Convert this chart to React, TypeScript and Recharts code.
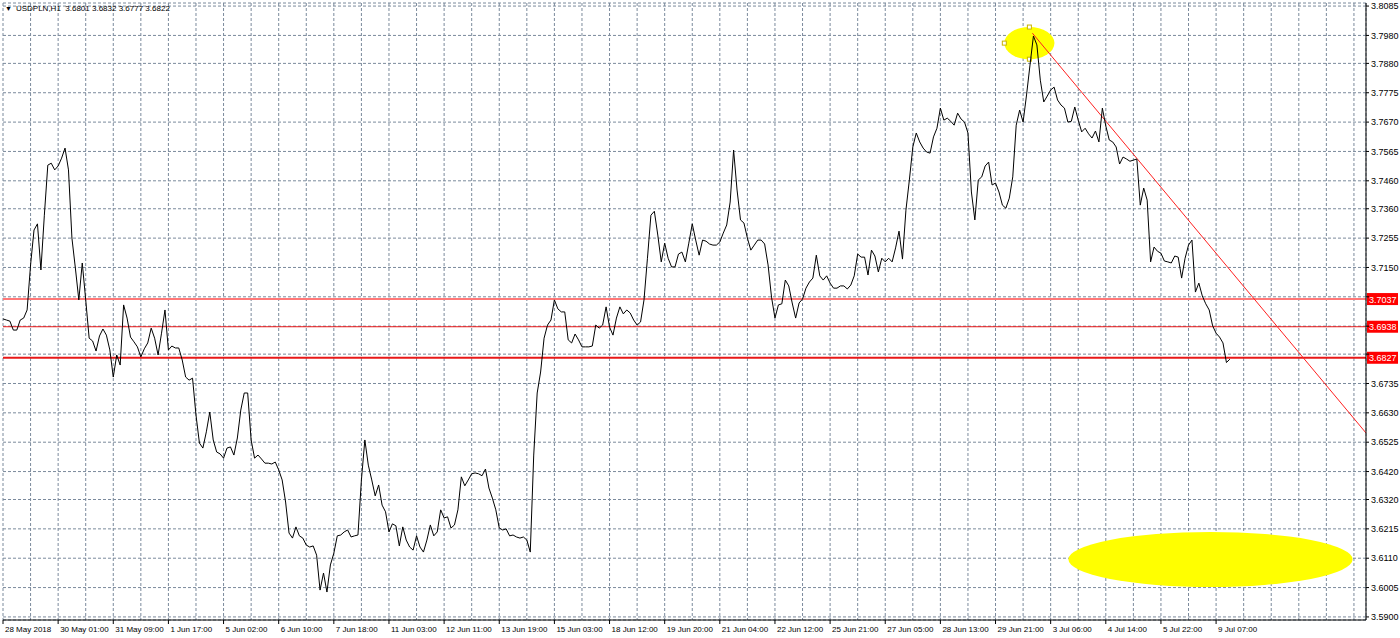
import {
  CartesianGrid,
  Line,
  LineChart,
  ReferenceArea,
  ReferenceLine,
  XAxis,
  YAxis,
} from 'recharts';

const symbol = 'USDPLN,H1';
const lastBar = [3.6801, 3.6832, 3.6777, 3.6822];

// close price read every 2 hourly bars
const barStep = 2;
const closes = [
  3.6966, 3.6962, 3.6958, 3.6926, 3.6926, 3.6962, 3.6969, 3.6998, 3.7159, 3.7284, 3.7306, 3.7141, 3.7337, 3.7516, 3.7523, 3.7499,
  3.7513, 3.7541, 3.7577, 3.7499, 3.7255, 3.7148, 3.7034, 3.7166, 3.7034, 3.6897, 3.6887, 3.6851, 3.6905, 3.6930, 3.6908, 3.6855,
  3.6758, 3.6837, 3.6801, 3.7016, 3.6969, 3.6901, 3.6884, 3.6866, 3.6830, 3.6859, 3.6880, 3.6933, 3.6897, 3.6837, 3.6915, 3.6998,
  3.6855, 3.6869, 3.6862, 3.6862, 3.6819, 3.6758, 3.6747, 3.6754, 3.6622, 3.6522, 3.6504, 3.6562, 3.6633, 3.6533, 3.6490, 3.6483,
  3.6468, 3.6504, 3.6508, 3.6479, 3.6540, 3.6640, 3.6701, 3.6701, 3.6533, 3.6468, 3.6479, 3.6465, 3.6450, 3.6450, 3.6447, 3.6454,
  3.6426, 3.6390, 3.6311, 3.6200, 3.6182, 3.6222, 3.6190, 3.6182, 3.6157, 3.6150, 3.6154, 3.6121, 3.5996, 3.6057, 3.5989, 3.6086,
  3.6128, 3.6190, 3.6193, 3.6204, 3.6211, 3.6186, 3.6190, 3.6193, 3.6390, 3.6533, 3.6443, 3.6390, 3.6333, 3.6372, 3.6300, 3.6276,
  3.6204, 3.6233, 3.6226, 3.6154, 3.6222, 3.6175, 3.6150, 3.6139, 3.6190, 3.6150, 3.6132, 3.6175, 3.6229, 3.6190, 3.6204, 3.6283,
  3.6254, 3.6258, 3.6218, 3.6229, 3.6283, 3.6401, 3.6369, 3.6390, 3.6412, 3.6415, 3.6412, 3.6405, 3.6429, 3.6361, 3.6325, 3.6283,
  3.6218, 3.6211, 3.6215, 3.6190, 3.6193, 3.6186, 3.6182, 3.6186, 3.6175, 3.6132, 3.6479, 3.6701, 3.6776, 3.6897, 3.6944, 3.6962,
  3.7034, 3.7002, 3.6991, 3.6991, 3.6891, 3.6880, 3.6912, 3.6891, 3.6866, 3.6866, 3.6866, 3.6869, 3.6944, 3.6933, 3.6944, 3.7009,
  3.6937, 3.6908, 3.6969, 3.7009, 3.6984, 3.6998, 3.6987, 3.6962, 3.6944, 3.6955, 3.7034, 3.7183, 3.7337, 3.7351, 3.7266, 3.7170,
  3.7237, 3.7183, 3.7152, 3.7152, 3.7198, 3.7205, 3.7170, 3.7237, 3.7306, 3.7248, 3.7194, 3.7248, 3.7244, 3.7234, 3.7230, 3.7230,
  3.7241, 3.7273, 3.7302, 3.7384, 3.7570, 3.7427, 3.7320, 3.7309, 3.7255, 3.7212, 3.7230, 3.7248, 3.7248, 3.7234, 3.7159, 3.7044,
  3.6969, 3.7016, 3.7020, 3.7105, 3.7084, 3.7023, 3.6969, 3.7023, 3.7037, 3.7076, 3.7098, 3.7112, 3.7194, 3.7120, 3.7105, 3.7120,
  3.7094, 3.7076, 3.7076, 3.7084, 3.7084, 3.7073, 3.7087, 3.7120, 3.7198, 3.7187, 3.7187, 3.7123, 3.7212, 3.7191, 3.7134, 3.7183,
  3.7170, 3.7183, 3.7170, 3.7220, 3.7280, 3.7180, 3.7355, 3.7463, 3.7581, 3.7631, 3.7599, 3.7577, 3.7563, 3.7559, 3.7617, 3.7648,
  3.7720, 3.7677, 3.7684, 3.7673, 3.7659, 3.7702, 3.7681, 3.7670, 3.7631, 3.7420, 3.7320, 3.7463, 3.7474, 3.7513, 3.7527, 3.7445,
  3.7452, 3.7420, 3.7373, 3.7362, 3.7398, 3.7474, 3.7659, 3.7713, 3.7670, 3.7767, 3.7874, 3.7978, 3.7946, 3.7820, 3.7742, 3.7763,
  3.7785, 3.7795, 3.7749, 3.7731, 3.7720, 3.7670, 3.7673, 3.7724, 3.7677, 3.7635, 3.7648, 3.7628, 3.7613, 3.7638, 3.7599, 3.7720,
  3.7656, 3.7606, 3.7599, 3.7581, 3.7520, 3.7545, 3.7538, 3.7530, 3.7534, 3.7538, 3.7373, 3.7434, 3.7391, 3.7170, 3.7223, 3.7208,
  3.7201, 3.7173, 3.7170, 3.7166, 3.7191, 3.7187, 3.7112, 3.7183, 3.7230, 3.7248, 3.7062, 3.7094, 3.7048, 3.7020, 3.6998, 3.6941,
  3.6915, 3.6901, 3.6880, 3.6810, 3.6822,
];

// one time label every 32 bars, one grid line every 16
const timeLabels = [
  '28 May 2018', '30 May 01:00', '31 May 09:00', '1 Jun 17:00', '5 Jun 02:00', '6 Jun 10:00',
  '7 Jun 18:00', '11 Jun 03:00', '12 Jun 11:00', '13 Jun 19:00', '15 Jun 03:00', '18 Jun 12:00',
  '19 Jun 20:00', '21 Jun 04:00', '22 Jun 12:00', '25 Jun 21:00', '27 Jun 05:00', '28 Jun 13:00',
  '29 Jun 21:00', '3 Jul 06:00', '4 Jul 14:00', '5 Jul 22:00', '9 Jul 07:00',
];
const labelEvery = 32;
const gridEvery = 16;
const barMax = 791;

const priceTicks = [
  3.59, 3.6005, 3.611, 3.6215, 3.632, 3.642, 3.6525, 3.663, 3.6735, 3.684, 3.694,
  3.7045, 3.715, 3.7255, 3.736, 3.746, 3.7565, 3.767, 3.7775, 3.788, 3.798, 3.8085,
];
const priceMin = 3.5889;
const priceMax = 3.8096;

const levels = [
  { price: 3.7037, color: '#ff7878', width: 2 },
  { price: 3.6938, color: '#e81818', width: 1 },
  { price: 3.6827, color: '#e81818', width: 2 },
];

const trendLine = [
  { x: 597.4, y: 3.7988 },
  { x: 791, y: 3.6558 },
];

const ellipses = [
  { x1: 581.1, x2: 610.2, y1: 3.7895, y2: 3.801, selected: true },
  { x1: 618.3, x2: 783.2, y1: 3.6007, y2: 3.6204, selected: false },
];

const data = closes.map((close, i) => ({ bar: i * barStep, close }));
const barTicks = Array.from({ length: Math.floor(barMax / gridEvery) + 1 }, (_, i) => i * gridEvery);

const FONT = '"Liberation Sans", Arial, sans-serif';

// price labels hidden behind a level tag
const coveredByTag = (v: number) => levels.some((l) => Math.abs(l.price - v) < 0.0035);

const TimeTick = (props: any) => {
  const { x, y, payload } = props;
  const bar = payload.value;
  const label = bar % labelEvery === 0 ? timeLabels[bar / labelEvery] : undefined;
  if (!label) return <g />;
  return (
    <g>
      <line x1={x} y1={y} x2={x} y2={y + 4} stroke="#000" />
      <text x={x + 2} y={y + 12} fontSize={8} fontFamily={FONT} fill="#000">
        {label}
      </text>
    </g>
  );
};

const levelTag = (price: number) => (props: any) => {
  const { x, y, width } = props.viewBox;
  return (
    <g>
      <rect x={x + width + 1} y={y - 6} width={31} height={12} fill="#ff0000" />
      <text x={x + width + 3} y={y + 3.5} fontSize={9} fontFamily={FONT} fill="#fff">
        {price.toFixed(4)}
      </text>
    </g>
  );
};

const Ellipse = (selected: boolean) => (props: any) => {
  const { x, y, width, height } = props;
  const cx = x + width / 2;
  const cy = y + height / 2;
  const handles = selected
    ? [
        [cx, y],
        [x, cy],
        [cx, y + height],
      ]
    : [];
  return (
    <g>
      <ellipse cx={cx} cy={cy} rx={width / 2} ry={height / 2} fill="#ffff00" />
      {handles.map(([hx, hy], i) => (
        <rect key={i} x={hx - 2} y={hy - 2} width={4} height={4} fill="#fff" stroke="#c8b400" />
      ))}
    </g>
  );
};

export default function App() {
  return (
    <div style={{ position: 'absolute', left: 0, top: 0, width: 1400, height: 638, background: '#fff' }}>
      <LineChart width={1400} height={638} data={data} margin={{ top: 3, right: 0, bottom: 0, left: 3 }}>
        <CartesianGrid stroke="#7b8a9c" strokeDasharray="3 2" />
        <XAxis
          dataKey="bar"
          type="number"
          domain={[0, barMax]}
          ticks={barTicks}
          interval={0}
          height={18}
          tickSize={0}
          tickMargin={0}
          tickLine={false}
          axisLine={{ stroke: '#000' }}
          tick={<TimeTick />}
          allowDataOverflow
        />
        <XAxis
          xAxisId="frame"
          orientation="top"
          type="number"
          domain={[0, barMax]}
          height={0}
          tick={false}
          tickLine={false}
          axisLine={{ stroke: '#000' }}
        />
        <YAxis
          orientation="right"
          type="number"
          domain={[priceMin, priceMax]}
          ticks={priceTicks}
          interval={0}
          width={34}
          tickSize={3}
          tickMargin={2}
          tickLine={{ stroke: '#000' }}
          axisLine={{ stroke: '#000' }}
          tick={{ fontSize: 9, fontFamily: FONT, fill: '#000' }}
          tickFormatter={(v: number) => (coveredByTag(v) ? '' : v.toFixed(4))}
          allowDataOverflow
        />
        <YAxis
          yAxisId="frame"
          orientation="left"
          type="number"
          domain={[priceMin, priceMax]}
          width={0}
          tick={false}
          tickLine={false}
          axisLine={{ stroke: '#000' }}
        />
        {ellipses.map((e, i) => (
          <ReferenceArea
            key={i}
            x1={e.x1}
            x2={e.x2}
            y1={e.y1}
            y2={e.y2}
            shape={Ellipse(e.selected)}
          />
        ))}
        {levels.map((l) => (
          <ReferenceLine
            key={l.price}
            y={l.price}
            stroke={l.color}
            strokeWidth={l.width}
            label={levelTag(l.price)}
          />
        ))}
        <ReferenceLine segment={trendLine} stroke="#ff2020" strokeWidth={1} />
        <Line
          dataKey="close"
          type="linear"
          stroke="#000"
          strokeWidth={1}
          dot={false}
          activeDot={false}
          isAnimationActive={false}
        />
      </LineChart>
      <div
        style={{
          position: 'absolute',
          left: 5,
          top: 3,
          fontFamily: FONT,
          fontSize: 8,
          lineHeight: '11px',
          color: '#000',
          whiteSpace: 'pre',
        }}
      >
        <span style={{ fontSize: 7, marginRight: 4 }}>▼</span>
        {`${symbol}  ${lastBar.map((v) => v.toFixed(4)).join(' ')}`}
      </div>
    </div>
  );
}
